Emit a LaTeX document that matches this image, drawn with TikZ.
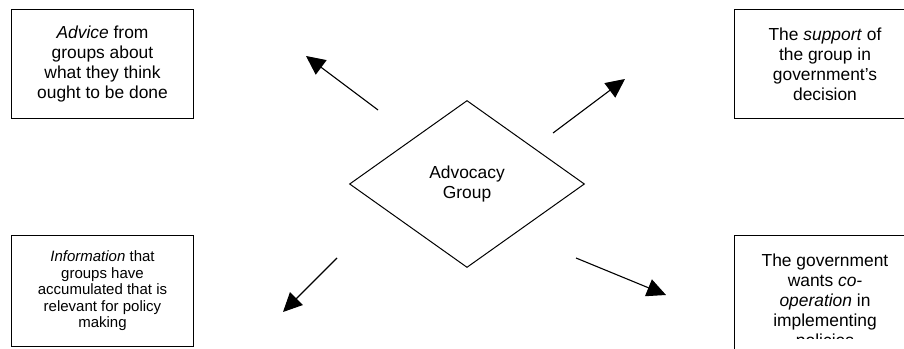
\documentclass[tikz,border=0pt]{standalone}
\usepackage{fontspec}
\setmainfont{Liberation Sans}
\usetikzlibrary{shapes.geometric,arrows.meta}
\begin{document}
\begin{tikzpicture}
[x=1pt,y=1pt,
 boxdecorate/.style={shape=rectangle,draw,line width=1pt,align=center,inner sep=0pt,%
   minimum width=182pt,font=\fontsize{17.4}{20}\selectfont},
 smallbox/.style={font=\fontsize{15}{16.5}\selectfont},
 groupdecorate/.style={shape=diamond,draw,line width=1pt,align=center,inner sep=0pt,%
   minimum width=235pt,minimum height=167pt,font=\fontsize{17.4}{20}\selectfont},
 arrowdecorate/.style={-{Triangle[length=19pt,width=18pt]},line width=1.1pt}]
\clip (0,0) rectangle (904,348);
%% the group in the middle
\node (Group) at (467,164) [groupdecorate] {Advocacy\\Group};
%% boxes round it
\node (Advice) at (102.5,283.5) [boxdecorate,minimum height=109pt]
  {\textit{Advice} from\\groups about\\what they think\\ought to be done};
\node (Support) at (825,283.5) [boxdecorate,minimum height=109pt]
  {The \textit{support} of\\the group in\\government’s\\decision};
\node (Information) at (102.5,57) [boxdecorate,smallbox,minimum height=111pt]
  {\textit{Information} that\\groups have\\accumulated that is\\relevant for policy\\making};
\node (Cooperation) at (825,46) [boxdecorate,minimum height=132pt]
  {The government\\wants \textit{co-}\\\textit{operation} in\\implementing\\policies};
% the text box cuts its last line
\fill[white] ([xshift=1pt]Cooperation.south west) rectangle (Cooperation.east |- 0,9);
%% arrow ends
\foreach \pointname/\x/\y in {AdviceFrom/378/238, AdviceTo/306/292,
  SupportFrom/553/215, SupportTo/625/269,
  InformationFrom/337/90, InformationTo/283/36,
  CooperationFrom/576/90, CooperationTo/666/53} {
  \coordinate (\pointname) at (\x,\y);
}
%% arrows
\path
\foreach \startpoint/\endpoint in {AdviceFrom/AdviceTo, SupportFrom/SupportTo,
  InformationFrom/InformationTo, CooperationFrom/CooperationTo} {
  (\startpoint) edge[arrowdecorate] (\endpoint)
};
\end{tikzpicture}
\end{document}
